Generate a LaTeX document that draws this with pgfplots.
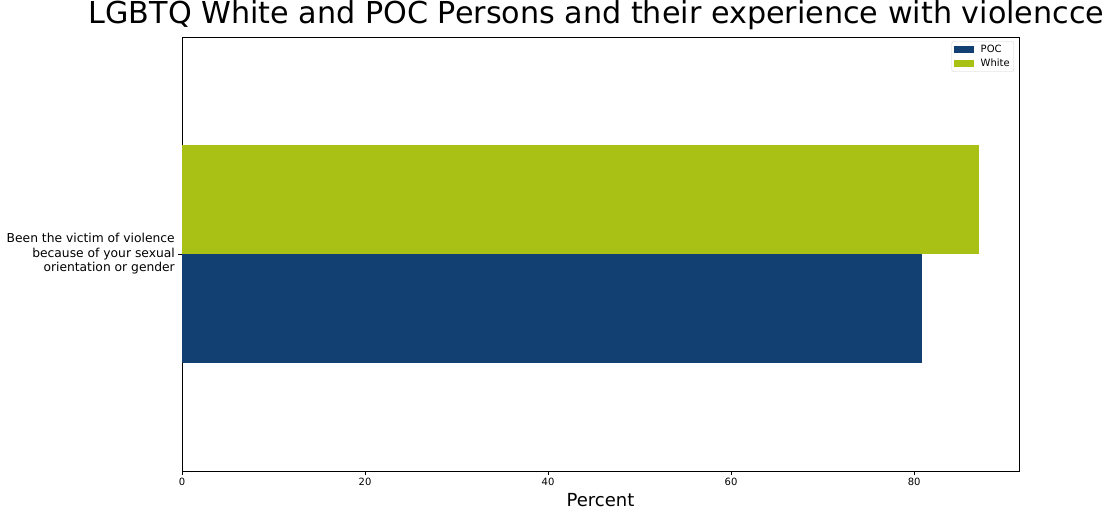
\documentclass[border=0pt]{standalone}
\usepackage{fontspec}
\setmainfont{DejaVu Sans}
\usepackage{pgfplots}
\pgfplotsset{compat=1.18}
\definecolor{pocblue}{RGB}{19,64,115}
\definecolor{whitegreen}{RGB}{169,192,21}
\begin{document}
\begin{tikzpicture}
\begin{axis}[
  scale only axis,
  width=837pt, height=434pt,
  xmin=0, xmax=91.46,
  ymin=-0.5, ymax=0.5,
  xbar, bar width=0.25, bar shift=0pt,
  clip=false,
  axis line style={black, line width=0.8pt},
  xtick={0,20,40,60,80},
  ytick={0},
  yticklabels={{Been the victim of violence \\because of your sexual \\orientation or gender}},
  yticklabel style={align=right, font=\fontsize{12.3}{14.6}\selectfont, inner sep=0pt, xshift=-3.5pt},
  xticklabel style={font=\fontsize{10}{12}\selectfont, inner sep=0pt, yshift=-3.5pt},
  /pgf/number format/assume math mode=true,
  tick align=outside,
  xtick pos=bottom, ytick pos=left,
  major tick length=3.5pt,
  tick style={black, line width=0.8pt},
  xlabel={Percent},
  xlabel style={font=\fontsize{18}{21.6}\selectfont, at={(rel axis cs:0.5,0)}, anchor=base, yshift=-35pt},
  title={LGBTQ White and POC Persons and their experience with violencce},
  title style={font=\fontsize{30.2}{36}\selectfont, at={(rel axis cs:0.5,1)}, anchor=base, yshift=7pt, xshift=-4pt, inner sep=0pt},
  legend style={at={(rel axis cs:0.994,0.99)}, anchor=north east, font=\fontsize{10}{12}\selectfont, draw=black!18, rounded corners=2pt, inner xsep=2pt, inner ysep=2.5pt, row sep=3pt,
    nodes={inner xsep=2pt, inner ysep=1pt}},
  legend cell align=left,
  legend image code/.code={\fill[#1, sharp corners] (0pt,-3.5pt) rectangle (20pt,3.5pt); \path (0pt,0pt) (25pt,0pt);},
]
\addplot[fill=pocblue, draw=none] coordinates {(80.9,-0.125)};
\addlegendentry{POC}
\addplot[fill=whitegreen, draw=none] coordinates {(87.1,0.125)};
\addlegendentry{White}
\draw[draw=none] (rel axis cs:0,0) ++(-182pt,-46pt) rectangle ++(1118pt,517pt);
\end{axis}
\end{tikzpicture}
\end{document}
